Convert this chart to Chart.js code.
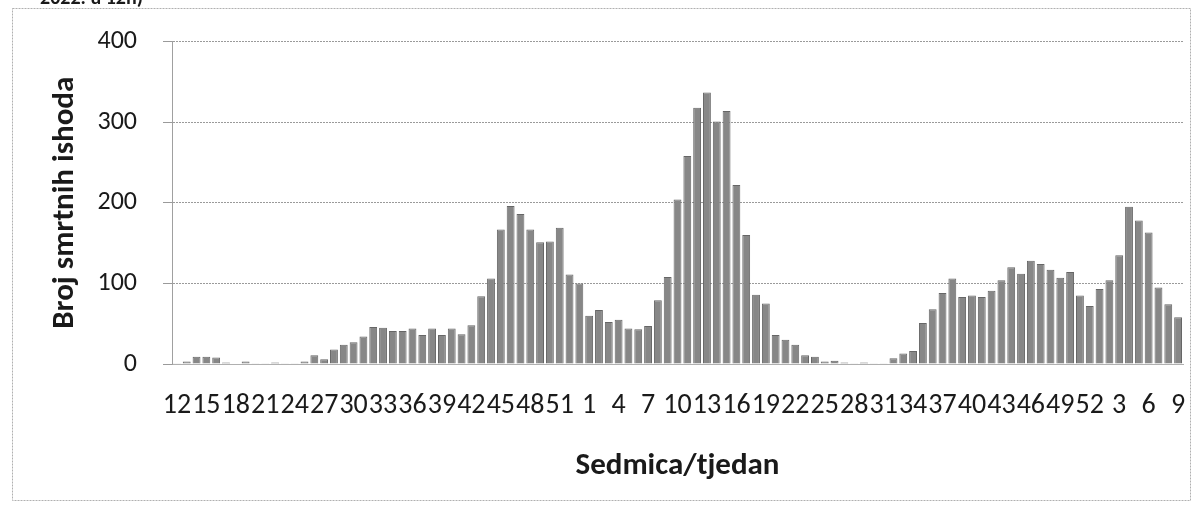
<!DOCTYPE html>
<html>
<head>
<meta charset="utf-8">
<script src="https://cdn.jsdelivr.net/npm/chart.js@4.4.0/dist/chart.umd.min.js"></script>
<style>
    html, body { margin: 0; padding: 0; background: #fff; }
    #wrap { width: 1201px; height: 515px; }
</style>
</head>
<body>
<div id="wrap"><canvas id="deathsChart" width="1201" height="515"></canvas></div>
<script>
// weeks: 2020 (12-53), 2021 (1-52), 2022 (1-9)
const weeks = [
    12, 13, 14, 15, 16, 17, 18, 19, 20, 21, 22, 23, 24, 25, 26, 27, 28, 29, 30, 31, 32,
    33, 34, 35, 36, 37, 38, 39, 40, 41, 42, 43, 44, 45, 46, 47, 48, 49, 50, 51, 52, 53,
    1, 2, 3, 4, 5, 6, 7, 8, 9, 10, 11, 12, 13, 14, 15, 16, 17, 18, 19, 20, 21, 22, 23, 24, 25, 26,
    27, 28, 29, 30, 31, 32, 33, 34, 35, 36, 37, 38, 39, 40, 41, 42, 43, 44, 45, 46, 47, 48, 49, 50, 51, 52,
    1, 2, 3, 4, 5, 6, 7, 8, 9
];

const deaths = [
    1, 3, 9, 9, 8, 2, 0, 3, 1, 1, 2, 1, 1, 3,
    11, 6, 18, 24, 27, 34, 46, 45, 41, 41, 44, 36, 44, 36, 44, 37, 48, 84,
    106, 167, 196, 186, 167, 151, 152, 169, 111, 100,
    60, 67, 52, 55, 44, 43, 47, 79, 108, 204, 258, 318, 337, 301, 314, 222, 160, 86, 75,
    36, 30, 24, 11, 9, 3, 4, 2, 1, 2, 1, 1, 7, 13, 16,
    51, 68, 88, 106, 83, 85, 83, 91, 104, 120, 112, 128, 124, 117, 107, 114, 85, 72, 93, 104,
    135, 195, 178, 163, 95, 74, 58
];

const yMax = 400;
const yStep = 100;
const labelEvery = 3;

const fontFamily = "Carlito, Lato, 'Open Sans', sans-serif";

// outer frame + the cut-off heading line above the chart
const framePlugin = {
    id: 'frame',
    afterDraw(chart) {
        const ctx = chart.ctx;
        ctx.save();
        ctx.strokeStyle = '#b0b0b0';
        ctx.lineWidth = 1;
        ctx.setLineDash([2, 1]);
        ctx.strokeRect(12.5, 8.5, 1178, 492);
        ctx.setLineDash([]);
        ctx.fillStyle = '#1a1a1a';
        ctx.font = 'bold 20px ' + fontFamily;
        ctx.textBaseline = 'alphabetic';
        ctx.fillText('2022. u 12h)', 40, 4);
        ctx.restore();
    }
};

const ctx = document.getElementById('deathsChart').getContext('2d');
new Chart(ctx, {
    type: 'bar',
    data: {
        labels: weeks,
        datasets: [{
            label: 'Broj smrtnih ishoda',
            data: deaths,
            backgroundColor: '#878787',
            borderColor: '#666666',
            borderWidth: 1,
            barPercentage: 0.8,
            categoryPercentage: 1.0
        }]
    },
    options: {
        responsive: false,
        devicePixelRatio: 1,
        animation: false,
        layout: {
            padding: { left: 20, right: 18, top: 40, bottom: 0 }
        },
        plugins: {
            legend: { display: false },
            tooltip: { enabled: false }
        },
        scales: {
            x: {
                // grid hidden, but tickLength still pushes the labels down
                grid: { display: false, drawTicks: true, tickLength: 23 },
                border: { color: '#b0b0b0' },
                ticks: {
                    autoSkip: false,
                    maxRotation: 0,
                    minRotation: 0,
                    padding: 2,
                    color: '#1a1a1a',
                    font: { family: fontFamily, size: 28 },
                    callback: function(value, index) {
                        return index % labelEvery === 0 ? String(weeks[index]) : '';
                    }
                },
                title: {
                    display: true,
                    text: 'Sedmica/tjedan',
                    color: '#1a1a1a',
                    font: { family: fontFamily, size: 31, weight: 'bold' },
                    padding: { top: 0, bottom: 30 }
                },
                afterFit: function(scale) {
                    scale.height = 151;
                }
            },
            y: {
                min: 0,
                max: yMax,
                ticks: {
                    stepSize: yStep,
                    padding: 26,
                    color: '#1a1a1a',
                    font: { family: fontFamily, size: 26 }
                },
                grid: {
                    color: '#9a9a9a',
                    lineWidth: 1,
                    tickLength: 9
                },
                border: { color: '#a0a0a0', dash: [2, 1] },
                title: {
                    display: true,
                    text: 'Broj smrtnih ishoda',
                    color: '#1a1a1a',
                    font: { family: fontFamily, size: 31, weight: 'bold' },
                    padding: { top: 27, bottom: 0 }
                },
                afterFit: function(scale) {
                    scale.width = 152;
                }
            }
        }
    },
    plugins: [framePlugin]
});
</script>
</body>
</html>
